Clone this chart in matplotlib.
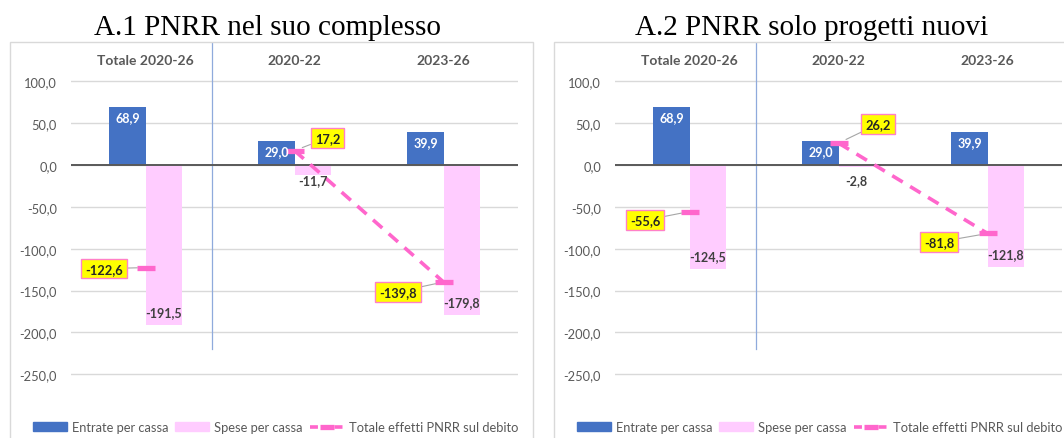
import numpy as np
import matplotlib
matplotlib.use("Agg")
import matplotlib.pyplot as plt
from matplotlib.patches import Rectangle, Patch
from matplotlib.lines import Line2D

# ---------------- data ----------------
categories = ["Totale 2020-26", "2020-22", "2023-26"]
titles = ["A.1 PNRR nel suo complesso", "A.2 PNRR solo progetti nuovi"]
series_names = ["Entrate per cassa", "Spese per cassa", "Totale effetti PNRR sul debito"]

entrate_a1 = [68.9, 29.0, 39.9]
spese_a1 = [-191.5, -11.7, -179.8]
debito_a1 = [-122.6, 17.2, -139.8]

entrate_a2 = [68.9, 29.0, 39.9]
spese_a2 = [-124.5, -2.8, -121.8]
debito_a2 = [-55.6, 26.2, -81.8]

yticks = [100, 50, 0, -50, -100, -150, -200, -250]

# ---------------- style / layout ----------------
plt.rcParams['font.family'] = ['Lato', 'DejaVu Sans']

W, H = 1064, 439
fig = plt.figure(figsize=(W / 100, H / 100), dpi=100)


def fx(px):
    return px / W


def fy(py):
    return 1 - py / H


BLUE = "#4472C4"
PINK = "#FFCCFF"
LINE = "#FF66CC"
GRAY = "#595959"
GRID = "#D9D9D9"
PT = 0.72                 # points per pixel at 100 dpi
PX_PER_UNIT = 0.837
Y0 = 166                  # image row of the zero line
AX_TOP, AX_BOT = 43, 400
ylim = (-(AX_BOT - Y0) / PX_PER_UNIT, (Y0 - AX_TOP) / PX_PER_UNIT)


def fmt(v):
    return f"{v:.1f}".replace(".", ",")


panels = [
    (0, titles[0], entrate_a1, spese_a1, debito_a1,
     [(-41.5, -1), (33, 12.7), (-45.5, -9.7)]),
    (544, titles[1], entrate_a2, spese_a2, debito_a2,
     [(-44.5, -8.7), (39.5, 19), (-48.5, -8.5)]),
]

for dx, title, ent, spe, deb, offs in panels:
    fig.patches.append(Rectangle((fx(10 + dx), -0.1), fx(523), fy(43) + 0.1,
                                 transform=fig.transFigure, fill=False,
                                 ec=GRID, lw=1))
    fig.text(fx(268 + dx), fy(35), title, family="Liberation Serif",
             fontsize=21, ha="center", va="baseline", color="black")

    ax = fig.add_axes([fx(71 + dx), fy(AX_BOT), fx(447), (AX_BOT - AX_TOP) / H])
    ax.set_xlim(-0.5, 2.5)
    ax.set_ylim(*ylim)
    for s in ax.spines.values():
        s.set_visible(False)
    ax.set_xticks([])
    ax.set_yticks(yticks)
    ax.set_yticklabels([fmt(v) for v in yticks])
    ax.tick_params(axis='y', length=0, pad=14 * PT, labelsize=9.3, labelcolor=GRAY)
    ax.grid(axis='y', color=GRID, lw=1)
    ax.set_axisbelow(True)
    ax.axhline(0, color=GRAY, lw=1.4, zorder=3)

    x = np.arange(len(categories))
    bw = 0.242
    ax.bar(x - bw / 2, ent, bw, color=BLUE, zorder=2)
    ax.bar(x + bw / 2, spe, bw, color=PINK, zorder=2)

    # category labels at top
    for i, c in enumerate(categories):
        ax.text(i, (Y0 - 61) / PX_PER_UNIT, c, ha='center', va='center',
                fontweight='bold', color=GRAY, fontsize=10)

    # separator
    ax.plot([0.446, 0.446], [-(350 - Y0) / PX_PER_UNIT, ylim[1]],
            color="#8FAADC", lw=0.9, zorder=1)

    # bar labels
    for i, v in enumerate(ent):
        ax.annotate(fmt(v), (i - bw / 2, v), xytext=(0, -10 * PT),
                    textcoords='offset points', ha='center', va='center',
                    color='white', fontweight='bold', fontsize=9, zorder=6)
    for i, v in enumerate(spe):
        if abs(v) * PX_PER_UNIT > 30:
            xy, off = (i + bw / 2, v), 13 * PT
        else:
            xy, off = (i + bw / 2, 0), -15.5 * PT
        ax.annotate(fmt(v), xy, xytext=(0, off), textcoords='offset points',
                    ha='center', va='center', color='#404040',
                    fontweight='bold', fontsize=9, zorder=6)

    # debt line
    ax.plot(x[1:], deb[1:], color=LINE, lw=2.6, dashes=(3.4, 2.4), zorder=4)
    ax.plot(x, deb, ls='none', marker='_', ms=13, mew=3.8, color=LINE, zorder=5)
    for i, (v, (ox, oy)) in enumerate(zip(deb, offs)):
        ax.annotate(fmt(v), xy=(i, v), xytext=(ox * PT, oy * PT),
                    textcoords='offset points', ha='center', va='center',
                    fontsize=9.3, fontweight='bold', color='#262626',
                    bbox=dict(boxstyle='square,pad=0.3', fc='#FFFF00',
                              ec='#FF80C8', lw=1),
                    arrowprops=dict(arrowstyle='-', color='#A6A6A6', lw=0.8,
                                    shrinkA=0, shrinkB=6),
                    zorder=7)

    handles = [Patch(color=BLUE), Patch(color=PINK),
               Line2D([], [], color=LINE, lw=2.6, dashes=(2.2, 1.2),
                      marker='_', ms=10, mew=3.8)]
    ax.legend(handles, series_names, loc='center',
              bbox_to_anchor=(fx(275.5 + dx), fy(428)),
              bbox_transform=fig.transFigure, ncol=3, frameon=False,
              fontsize=9.3, handlelength=2.6, handletextpad=0.4,
              columnspacing=0.55, labelcolor=GRAY, handleheight=0.6)

fig.savefig("out.png", dpi=100)
